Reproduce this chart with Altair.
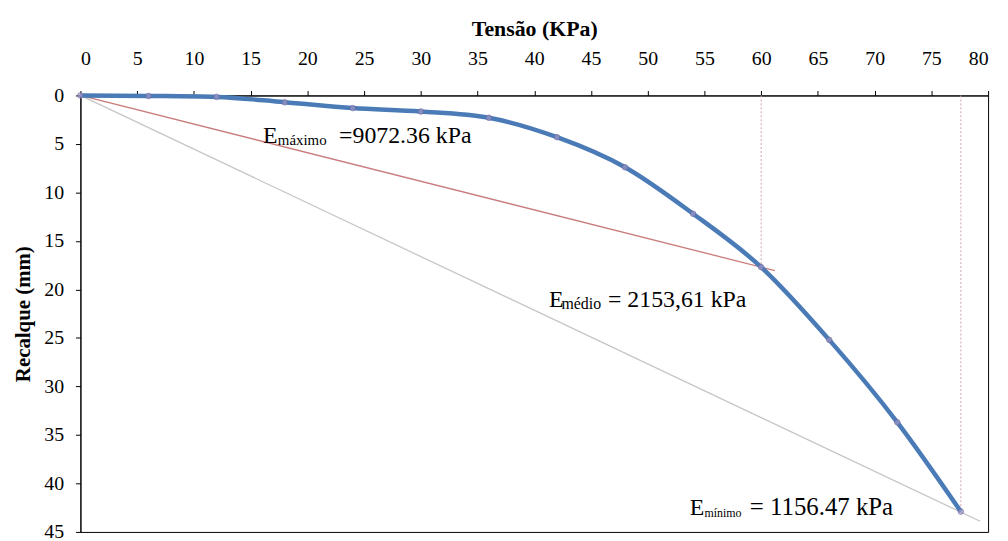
import altair as alt
import pandas as pd

# Measured curve (Tensão x Recalque)
tensao = [0, 6, 12, 18, 24, 30, 36, 42, 48, 54, 60, 66, 72, 77.6]
recalque = [0, 0.05, 0.15, 0.7, 1.3, 1.65, 2.3, 4.3, 7.4, 12.2, 17.7, 25.2, 33.7, 42.9]

# Secant lines from the origin
sec_names = ["medio", "minimo"]
sec_x_end = [61.2, 79.3]
sec_y_end = [18.05, 43.9]
sec_colors = ["#c97b7b", "#c6c6c6"]

# Dotted drop lines
drop_x = [60, 77.6]
drop_y = [17.7, 42.9]

# Annotations (E + subscript + value)
ann_e_x = [16.1, 41.3, 53.7]
ann_y = [4.9, 21.8, 43.25]
ann_sub = ["máximo", "médio", "mínimo"]
ann_sub_x = [17.4, 42.4, 55.0]
ann_sub_size = [15, 16, 12]
ann_val = ["=9072.36 kPa", "= 2153,61 kPa", "= 1156.47 kPa"]
ann_val_x = [22.8, 46.5, 59.0]
ann_val_size = [24, 24, 25]

FONT = "Liberation Serif, Times New Roman, serif"

curve_df = pd.DataFrame({"x": tensao, "y": recalque})

sec_rows = []
for n, xe, ye in zip(sec_names, sec_x_end, sec_y_end):
    sec_rows.append({"s": n, "x": 0, "y": 0, "o": 0})
    sec_rows.append({"s": n, "x": xe, "y": ye, "o": 1})
sec_df = pd.DataFrame(sec_rows)

drop_df = pd.DataFrame({"x": drop_x, "y0": [0, 0], "y": drop_y})

e_df = pd.DataFrame({"x": ann_e_x, "y": ann_y, "t": ["E"] * 3})
sub_df = pd.DataFrame({"x": ann_sub_x, "y": [v + 0.25 for v in ann_y], "t": ann_sub, "fs": ann_sub_size})
val_df = pd.DataFrame({"x": ann_val_x, "y": ann_y, "t": ann_val, "fs": ann_val_size})

xscale = alt.Scale(domain=[0, 80], nice=False)
yscale = alt.Scale(domain=[0, 45], reverse=True, nice=False)

xaxis = alt.Axis(orient="top", values=list(range(0, 81, 5)), title="Tensão (KPa)",
                 labelFontSize=20, titleFontSize=22, titleFontWeight="bold",
                 labelPadding=22, titlePadding=8, tickSize=5, labelFont=FONT, titleFont=FONT)
yaxis = alt.Axis(values=list(range(0, 46, 5)), title="Recalque (mm)",
                 labelFontSize=20, titleFontSize=21, titleFontWeight="bold",
                 labelPadding=12, titlePadding=10, tickSize=5, labelFont=FONT, titleFont=FONT)

X = lambda f="x": alt.X(f, type="quantitative", scale=xscale, axis=xaxis)
Y = lambda f="y": alt.Y(f, type="quantitative", scale=yscale, axis=yaxis)

drops = alt.Chart(drop_df).mark_rule(color="#cfa3aa", strokeDash=[2, 2], strokeWidth=1).encode(
    x=X(), y=Y("y0"), y2="y")

secants = alt.Chart(sec_df).mark_line(strokeWidth=1.3).encode(
    x=X(), y=Y(), order="o",
    color=alt.Color("s:N", scale=alt.Scale(domain=sec_names, range=sec_colors), legend=None))

curve = alt.Chart(curve_df).mark_line(color="#4a7bb7", strokeWidth=4.5, interpolate="monotone").encode(
    x=X(), y=Y())

points = alt.Chart(curve_df).mark_point(shape="circle", filled=True, size=32, color="#9a95c4",
                                        stroke="#6f68a3", strokeWidth=1).encode(x=X(), y=Y())

e_txt = alt.Chart(e_df).mark_text(font=FONT, fontSize=24, align="left", baseline="alphabetic",
                                  color="black").encode(x=X(), y=Y(), text="t")
sub_txt = alt.Chart(sub_df).mark_text(font=FONT, align="left", baseline="alphabetic",
                                      color="black").encode(
    x=X(), y=Y(), text="t", size=alt.Size("fs:Q", scale=None, legend=None))
val_txt = alt.Chart(val_df).mark_text(font=FONT, align="left", baseline="alphabetic",
                                      color="black").encode(
    x=X(), y=Y(), text="t", size=alt.Size("fs:Q", scale=None, legend=None))

chart = alt.layer(drops, secants, curve, points, e_txt, sub_txt, val_txt).properties(
    width=915, height=440,
    autosize=alt.AutoSizeParams(type="none"),
    padding={"left": 73, "top": 86, "right": 12, "bottom": 10},
    background="white",
).configure_view(stroke="black", strokeWidth=1).configure_axis(
    grid=False, domainColor="black", tickColor="black", labelColor="black", titleColor="black",
    domainWidth=1
)

chart.save("out.html", embed_options={"renderer": "svg", "actions": False})
